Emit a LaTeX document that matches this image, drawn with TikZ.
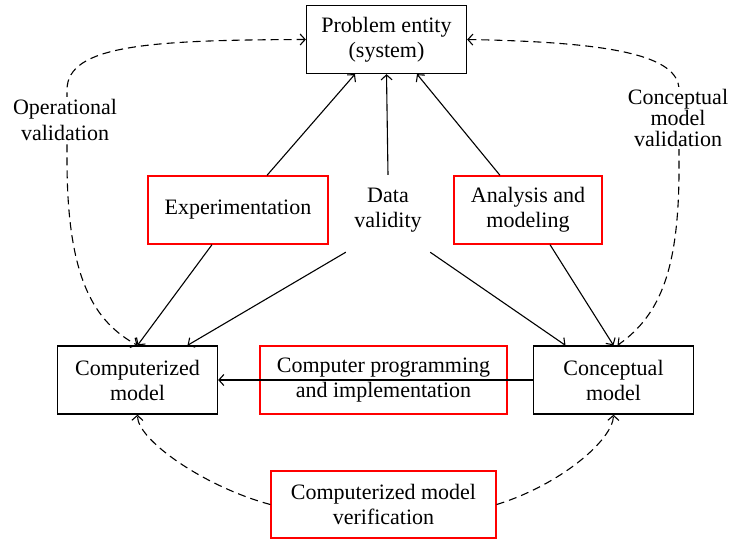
\documentclass[tikz,border=0pt]{standalone}
\usepackage{fontspec}
\setmainfont{Liberation Serif}
\usetikzlibrary{arrows.meta}
\begin{document}
\begin{tikzpicture}[x=1pt,y=-1pt,
  every node/.style={font=\fontsize{22}{25}\selectfont, align=center, inner sep=0pt},
  blackbox/.style={draw=black, line width=1.3pt, minimum width=160pt, minimum height=68pt},
  redbox/.style={draw=red, line width=1.3pt, minimum height=68pt},
  conn/.style={line width=1.1pt, -{Straight Barb[length=5pt,width=11pt]}},
  dconn/.style={conn, dash pattern=on 8pt off 5pt},
  lbl/.style={fill=white, inner sep=2pt}]
\useasboundingbox (0,0) rectangle (729,539);

\node[blackbox] (prob) at (386.5,39.5) {Problem entity\\(system)};
\node[redbox, minimum width=180pt] (exp) at (238,210) {Experimentation};
\node[redbox, minimum width=148pt] (ana) at (528,210) {Analysis and\\modeling};
\node[minimum width=84pt, minimum height=70pt] (data) at (388,210) {Data\\validity};
\node[blackbox] (comp) at (137.5,380) {Computerized\\model};
\node[blackbox] (conc) at (613.5,380) {Conceptual\\model};
\node[redbox, minimum width=247pt] (prog) at (383.5,380) {Computer programming\\and implementation};
\node[redbox, minimum width=225pt, minimum height=67pt] (ver) at (383.5,504.5) {Computerized model\\verification};

% solid connectors
\draw[conn] ([xshift=29pt]exp.north) -- ([xshift=-31.5pt]prob.south);
\draw[conn] ([xshift=-28pt]ana.north) -- ([xshift=30.5pt]prob.south);
\draw[conn] (data.north) -- (prob.south);
\draw[conn] ([xshift=-26pt]exp.south) -- (comp.north);
\draw[conn] ([yshift=-7pt]data.south west) -- ([xshift=50pt]comp.north);
\draw[conn] ([yshift=-7pt]data.south east) -- ([xshift=-48pt]conc.north);
\draw[conn] ([xshift=22pt]ana.south) -- (conc.north);
\draw[conn] (conc.west) -- (comp.east);

% dashed connectors
\draw[dconn, {Straight Barb[length=5pt,width=11pt]}-{Straight Barb[length=5pt,width=11pt]}]
  (prob.west) .. controls (150,40) and (67,45) .. (67,90) -- (67,160)
  .. controls (67,280) and (95,322) .. (comp.north);
\draw[dconn, {Straight Barb[length=5pt,width=11pt]}-{Straight Barb[length=5pt,width=11pt]}]
  (prob.east) .. controls (610,42) and (679,55) .. (679,90) -- (679,160)
  .. controls (680,270) and (660,315) .. ([xshift=4pt]conc.north);
\draw[dconn] (ver.west) .. controls (205,487) and (137,440) .. (comp.south);
\draw[dconn] (ver.east) .. controls (560,485) and (613,440) .. (conc.south);

% labels
\node[lbl, font=\fontsize{22}{26}\selectfont] (opval) at (65,120) {Operational\\validation};
\node[lbl, font=\fontsize{22}{21}\selectfont] (cmval) at (678,118) {Conceptual\\model\\validation};
\end{tikzpicture}
\end{document}
